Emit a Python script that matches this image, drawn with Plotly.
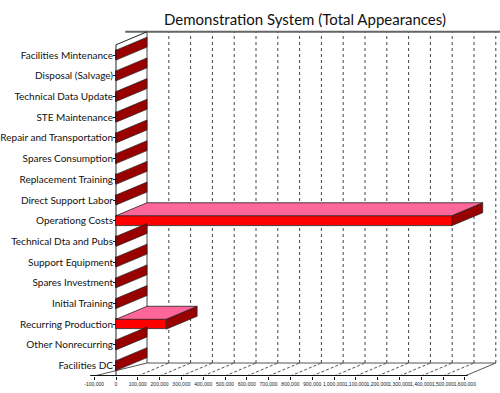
import plotly.graph_objects as go

# ---------------- data ----------------
categories = [
    "Facilities Mintenance", "Disposal (Salvage)", "Technical Data Update",
    "STE Maintenance", "Repair and Transportation", "Spares Consumption",
    "Replacement Training", "Direct Support Labor", "Operationg Costs",
    "Technical Dta and Pubs", "Support Equipment", "Spares Investment",
    "Initial Training", "Recurring Production", "Other Nonrecurring",
    "Facilities DC",
]
values = [0, 0, 0, 0, 0, 0, 0, 0, 1540000, 0, 0, 0, 0, 230000, 0, 0]
tick_values = [-100000 + 100000 * k for k in range(18)]
tick_labels = ["-100,000", "0", "100,000", "200,000", "300,000", "400,000",
               "500,000", "600,000", "700,000", "800,000", "900,000",
               "1,000,000", "1,100,000", "1,200,000", "1,300,000",
               "1,400,000", "1,500,000", "1,600,000"]
title_text = "Demonstration System (Total Appearances)"

# ---------------- geometry ----------------
W, H = 500, 393
PLOT_L, PLOT_R, PLOT_T, PLOT_B = 90, 500, 30, 376
X0_PX = 116                 # pixel of value 0 on front plane
PX_PER_UNIT = 21.8 / 100000
CAT_PX = 20.7
DEPTH_DX_PX, DEPTH_DY_PX = 31, 13
HALF = 0.24

n = len(categories)
ypos = [n - 1 - k for k in range(n)]
xmin = (PLOT_L - X0_PX) / PX_PER_UNIT
xmax = (PLOT_R - X0_PX) / PX_PER_UNIT
ymin = -0.5
ymax = -0.5 + (PLOT_B - PLOT_T) / CAT_PX
dX = DEPTH_DX_PX / PX_PER_UNIT
dY = DEPTH_DY_PX / CAT_PX
ytop = n - 0.5
vmin, vmax = tick_values[0], tick_values[-1]

LABEL_FONT = "Lato, Liberation Sans, sans-serif"
TICK_FONT = "Liberation Sans, Arial, sans-serif"
RED, DARK, PINK = "#ff0000", "#990000", "#ff6699"

fig = go.Figure()

# end caps (right side faces) for every bar
cx, cy = [], []
for v, y in zip(values, ypos):
    cx += [v, v, v + dX, v + dX, v, None]
    cy += [y - HALF, y + HALF, y + HALF + dY, y - HALF + dY, y - HALF, None]
fig.add_trace(go.Scatter(x=cx, y=cy, mode="lines", fill="toself",
                         fillcolor=DARK, line=dict(color="#222", width=0.7),
                         hoverinfo="skip", showlegend=False))

# top faces of non-zero bars
tx, ty = [], []
for v, y in zip(values, ypos):
    if v > 0:
        tx += [0, v, v + dX, dX, 0, None]
        ty += [y + HALF, y + HALF, y + HALF + dY, y + HALF + dY, y + HALF, None]
fig.add_trace(go.Scatter(x=tx, y=ty, mode="lines", fill="toself",
                         fillcolor=PINK, line=dict(color="#222", width=0.8),
                         hoverinfo="skip", showlegend=False))

# front faces
fig.add_trace(go.Bar(x=values, y=ypos, orientation="h", base=0,
                     width=2 * HALF, marker=dict(color=RED,
                     line=dict(color="#222", width=0.8)),
                     hoverinfo="skip", showlegend=False))

shapes = []
def line(x0, y0, x1, y1, color="#333", width=1, dash="solid", layer="below"):
    shapes.append(dict(type="line", xref="x", yref="y", x0=x0, y0=y0,
                       x1=x1, y1=y1, layer=layer,
                       line=dict(color=color, width=width, dash=dash)))

# back wall grid
for v in tick_values:
    if v > 0:
        line(v + dX, ymin + dY, v + dX, ytop + dY, color="#444", width=1,
             dash="3px,3px")
line(dX, ymin + dY, dX, ytop + dY, color="#444", width=1)
line(vmin + dX, ytop + dY, xmax, ytop + dY, color="#666", width=2)
# floor
line(dX, ymin + dY, vmax + dX, ymin + dY, color="#555", width=1)
line(vmax, ymin, vmax + dX, ymin + dY, color="#555", width=1)
line(vmin, ymin, dX, ymin + dY, color="#555", width=1)
for v in tick_values:
    if 0 < v < vmax:
        line(v, ymin, v + dX, ymin + dY, color="#555", width=1, dash="3px,2px")
# front (x = 0) plane edges
line(0, ymin, 0, ytop, color="#222", width=1)
line(0, ytop, dX, ytop + dY, color="#222", width=1)
# value axis line
line(vmin - 4 / PX_PER_UNIT, ymin, vmax + 3 / PX_PER_UNIT, ymin,
     color="#111", width=2, layer="above")

fig.update_layout(
    template="none",
    width=W, height=H,
    margin=dict(l=PLOT_L, r=W - PLOT_R, t=PLOT_T, b=H - PLOT_B, pad=0,
                autoexpand=False),
    paper_bgcolor="white", plot_bgcolor="white",
    shapes=shapes,
    bargap=0,
    title=dict(text=title_text, x=0.61, xanchor="center", y=1 - 20 / H,
               yanchor="middle", automargin=False,
               font=dict(family=LABEL_FONT, size=15, color="#111")),
    xaxis=dict(range=[xmin, xmax], tickvals=tick_values, ticktext=tick_labels,
               tickangle=0, ticks="outside", ticklen=3, tickcolor="#111",
               showgrid=False, zeroline=False, showline=False, automargin=False,
               tickfont=dict(family=TICK_FONT, size=5, color="#222")),
    yaxis=dict(range=[ymin, ymax], tickvals=ypos, ticktext=categories,
               anchor="free", position=(X0_PX - PLOT_L) / (PLOT_R - PLOT_L),
               ticks="outside", ticklen=3, tickcolor="#111", automargin=False,
               ticklabelstandoff=-2,
               showgrid=False, zeroline=False, showline=False,
               tickfont=dict(family=LABEL_FONT, size=10, color="#111")),
)

fig.write_html("out.html", config={"displayModeBar": False},
               post_script="document.body.style.margin='0';"
                           "document.body.style.padding='0';")
